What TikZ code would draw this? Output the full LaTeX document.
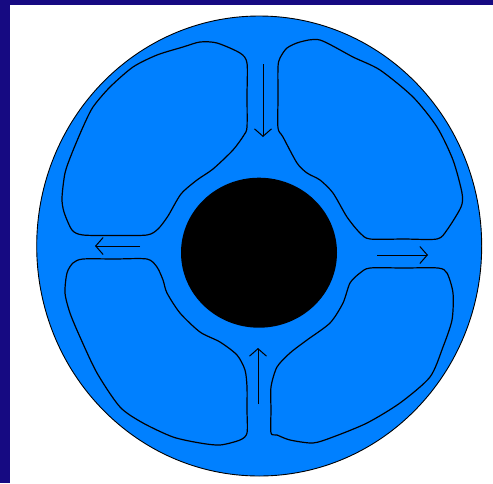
\documentclass[tikz,border=0pt]{standalone}
\usetikzlibrary{arrows.meta}
\definecolor{navy}{RGB}{22,10,130}
\definecolor{disc}{RGB}{0,128,255}
\tikzset{
  lobe/.style={draw=black, line width=1.2pt, smooth cycle, tension=0.45},
  flow/.style={draw=black, line width=1pt, -{Straight Barb[length=7.5pt,width=17pt,line width=1pt]}}
}
\begin{document}
\begin{tikzpicture}[x=1pt,y=-1pt]
\useasboundingbox (0,0) rectangle (493,483);
\fill[navy] (0,0) rectangle (493,483);
\fill[white] (10,5) rectangle (493,483);
% outer disc
\filldraw[fill=disc, draw=black, line width=0.9pt] (259.2,246) ellipse [x radius=222.5, y radius=230];
% hub
\fill[black] (259,252.7) ellipse [x radius=78, y radius=75];
% top-left lobe
\draw[lobe] plot coordinates {(247,63) (247,95) (247,127) (244,135) (233,150) (213,169) (197,180) (181,194) (168,216) (158,229) (147,235) (115,235.5) (83,235) (72,230) (64,212) (62,198) (65,173) (72,153) (83,127) (93,107) (110,87) (133,67) (157,55) (183,47) (200,42) (217,43) (240,53)};
% top-right lobe
\draw[lobe] plot coordinates {(278,67) (278,98) (278,128) (283,137) (297,163) (307,173) (320,180) (333,193) (347,217) (360,233) (370,239) (404,239) (437,239) (447,230) (461,207) (462,193) (453,160) (437,127) (413,97) (380,70) (353,57) (320,40) (300,42) (287,48) (280,58)};
% bottom-left lobe
\draw[lobe] plot coordinates {(83,259) (115,259) (147,259) (157,267) (163,280) (167,293) (180,313) (200,332) (220,342) (237,355) (245,370) (247,387) (247,410) (247,433) (240,440) (220,445) (200,443) (173,437) (143,423) (120,407) (97,373) (80,337) (70,313) (65,293) (67,273) (73,263)};
% bottom-right lobe
\draw[lobe] plot coordinates {(271,433) (271,410) (271,387) (277,367) (290,353) (307,340) (330,323) (343,303) (350,283) (360,273) (370,268) (404,268) (438,268) (447,273) (453,293) (452,320) (443,347) (430,377) (400,403) (367,423) (333,437) (313,443) (290,440) (277,435)};
% flow arrows
\coordinate (t1) at (263,64);  \coordinate (t2) at (263,137);
\coordinate (l1) at (140,246); \coordinate (l2) at (95,246);
\coordinate (r1) at (377,255); \coordinate (r2) at (428,255);
\coordinate (b1) at (258,404); \coordinate (b2) at (258,348);
\draw[flow] (t1) -- (t2);
\draw[flow] (l1) -- (l2);
\draw[flow] (r1) -- (r2);
\draw[flow] (b1) -- (b2);
\end{tikzpicture}
\end{document}
